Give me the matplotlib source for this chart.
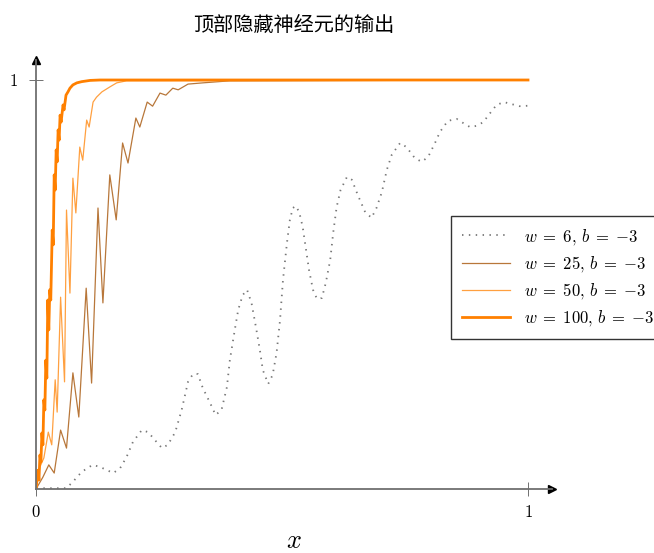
import matplotlib
matplotlib.use("Agg")
import matplotlib.pyplot as plt

plt.rcParams['mathtext.fontset'] = 'cm'
plt.rcParams['font.family'] = ['Noto Sans CJK SC', 'DejaVu Sans']

# values
x_w6 = [0.001, 0.028, 0.061, 0.073, 0.093, 0.115, 0.130, 0.157, 0.171, 0.184, 0.197, 0.215,
        0.228, 0.245, 0.256, 0.268, 0.283, 0.296, 0.309, 0.319, 0.329, 0.339, 0.354, 0.365,
        0.377, 0.388, 0.394, 0.404, 0.411, 0.420, 0.429, 0.438, 0.447, 0.455, 0.461, 0.472,
        0.481, 0.489, 0.496, 0.502, 0.510, 0.516, 0.522, 0.528, 0.535, 0.542, 0.549, 0.555,
        0.563, 0.571, 0.581, 0.589, 0.598, 0.604, 0.611, 0.619, 0.632, 0.642, 0.654, 0.669,
        0.682, 0.692, 0.703, 0.713, 0.723, 0.740, 0.753, 0.770, 0.784, 0.797, 0.811, 0.821,
        0.837, 0.855, 0.868, 0.882, 0.896, 0.909, 0.923, 0.936, 0.951, 0.967, 0.982, 1.000]
y_w6 = [0.002, 0.002, 0.002, 0.015, 0.042, 0.059, 0.054, 0.039, 0.051, 0.078, 0.115, 0.144,
        0.139, 0.115, 0.100, 0.108, 0.139, 0.193, 0.262, 0.281, 0.281, 0.247, 0.210, 0.181,
        0.193, 0.249, 0.315, 0.389, 0.438, 0.474, 0.487, 0.455, 0.396, 0.340, 0.291, 0.257,
        0.279, 0.333, 0.413, 0.511, 0.601, 0.658, 0.687, 0.692, 0.677, 0.641, 0.584, 0.535,
        0.487, 0.465, 0.467, 0.504, 0.560, 0.626, 0.689, 0.731, 0.763, 0.756, 0.719, 0.677,
        0.663, 0.687, 0.726, 0.780, 0.817, 0.846, 0.836, 0.809, 0.800, 0.812, 0.846, 0.873,
        0.900, 0.905, 0.895, 0.885, 0.888, 0.897, 0.919, 0.939, 0.946, 0.941, 0.936, 0.937]

x_w25 = [0.001, 0.014, 0.026, 0.037, 0.050, 0.062, 0.075, 0.087, 0.102, 0.113, 0.126, 0.136,
         0.150, 0.163, 0.176, 0.187, 0.203, 0.211, 0.226, 0.237, 0.252, 0.264, 0.278, 0.289,
         0.309, 0.339, 0.394, 1.000]
y_w25 = [0.002, 0.029, 0.059, 0.039, 0.144, 0.100, 0.284, 0.176, 0.491, 0.259, 0.687, 0.455,
         0.768, 0.658, 0.846, 0.797, 0.907, 0.885, 0.946, 0.936, 0.968, 0.963, 0.980, 0.976,
         0.990, 0.993, 0.998, 1.000]

x_w50 = [0.001, 0.008, 0.016, 0.025, 0.032, 0.039, 0.043, 0.050, 0.058, 0.062, 0.069, 0.075,
         0.081, 0.089, 0.095, 0.103, 0.108, 0.116, 0.123, 0.134, 0.150, 0.164, 0.184, 1.000]
y_w50 = [0.002, 0.054, 0.076, 0.139, 0.108, 0.267, 0.188, 0.469, 0.262, 0.682, 0.479, 0.760,
         0.675, 0.836, 0.804, 0.902, 0.885, 0.946, 0.958, 0.971, 0.983, 0.993, 0.998, 1.000]

x_w100 = [0.000, 0.004, 0.006, 0.008, 0.010, 0.012, 0.014, 0.016, 0.018, 0.020, 0.022, 0.024,
          0.026, 0.028, 0.030, 0.033, 0.035, 0.037, 0.039, 0.041, 0.043, 0.045, 0.047, 0.049,
          0.051, 0.055, 0.057, 0.061, 0.065, 0.069, 0.075, 0.083, 0.093, 0.110, 0.130, 1.000]
y_w100 = [0.000, 0.046, 0.022, 0.083, 0.066, 0.137, 0.108, 0.218, 0.193, 0.315, 0.271, 0.462,
          0.389, 0.487, 0.462, 0.633, 0.597, 0.768, 0.731, 0.829, 0.800, 0.878, 0.853, 0.914,
          0.897, 0.939, 0.927, 0.963, 0.971, 0.980, 0.988, 0.993, 0.996, 0.999, 1.000, 1.000]

labels = [r'$w\;=\;6,\,b\;=\;{-3}$', r'$w\;=\;25,\,b\;=\;{-3}$',
          r'$w\;=\;50,\,b\;=\;{-3}$', r'$w\;=\;100,\,b\;=\;{-3}$']

fig = plt.figure(figsize=(6.54, 5.53), dpi=100)
ax = fig.add_axes([36/654, 64/553, 516/654, 429/553])
xmax = 516/492
ymax = 429/409
ax.set_xlim(0, xmax)
ax.set_ylim(0, ymax)

ax.plot(x_w6, y_w6, color='#777777', lw=1.3, dashes=(0.8, 3.0), label=labels[0])
ax.plot(x_w25, y_w25, color='#b8773a', lw=0.9, label=labels[1])
ax.plot(x_w50, y_w50, color='#ffa040', lw=0.9, label=labels[2])
ax.plot(x_w100, y_w100, color='#ff8000', lw=2.0, label=labels[3])

# axes with arrows
for s in ['top', 'right']:
    ax.spines[s].set_visible(False)
for s in ['left', 'bottom']:
    ax.spines[s].set_color('#707070')
    ax.spines[s].set_linewidth(1.3)
ax.plot(1, 0, '>', color='black', ms=6, transform=ax.transAxes, clip_on=False)
ax.plot(0, 1, '^', color='black', ms=6, transform=ax.transAxes, clip_on=False)

ax.set_xticks([0, 1])
ax.set_xticklabels(['$0$', '$1$'], fontsize=12)
ax.set_yticks([1])
ax.set_yticklabels(['$1$'], fontsize=12)
ax.tick_params(axis='x', direction='inout', length=10, width=0.7, color='#707070', pad=6)
ax.tick_params(axis='y', direction='inout', length=10, width=0.7, color='#707070', pad=8)

fig.text(294/654, 1 - 541/553, '$x$', fontsize=19, ha='center', va='center')
fig.text(294/654, 1 - 25/553, '顶部隐藏神经元的输出', fontsize=14.5, ha='center', va='center')

leg = fig.legend(loc='upper left', bbox_to_anchor=(451/654, 1 - 216/553), borderaxespad=0,
                 fontsize=12, handlelength=2.9, labelspacing=0.42, borderpad=0.65,
                 fancybox=False, framealpha=1, edgecolor='#333333')
leg.get_frame().set_linewidth(1.0)

fig.savefig('out.png', dpi=100)
